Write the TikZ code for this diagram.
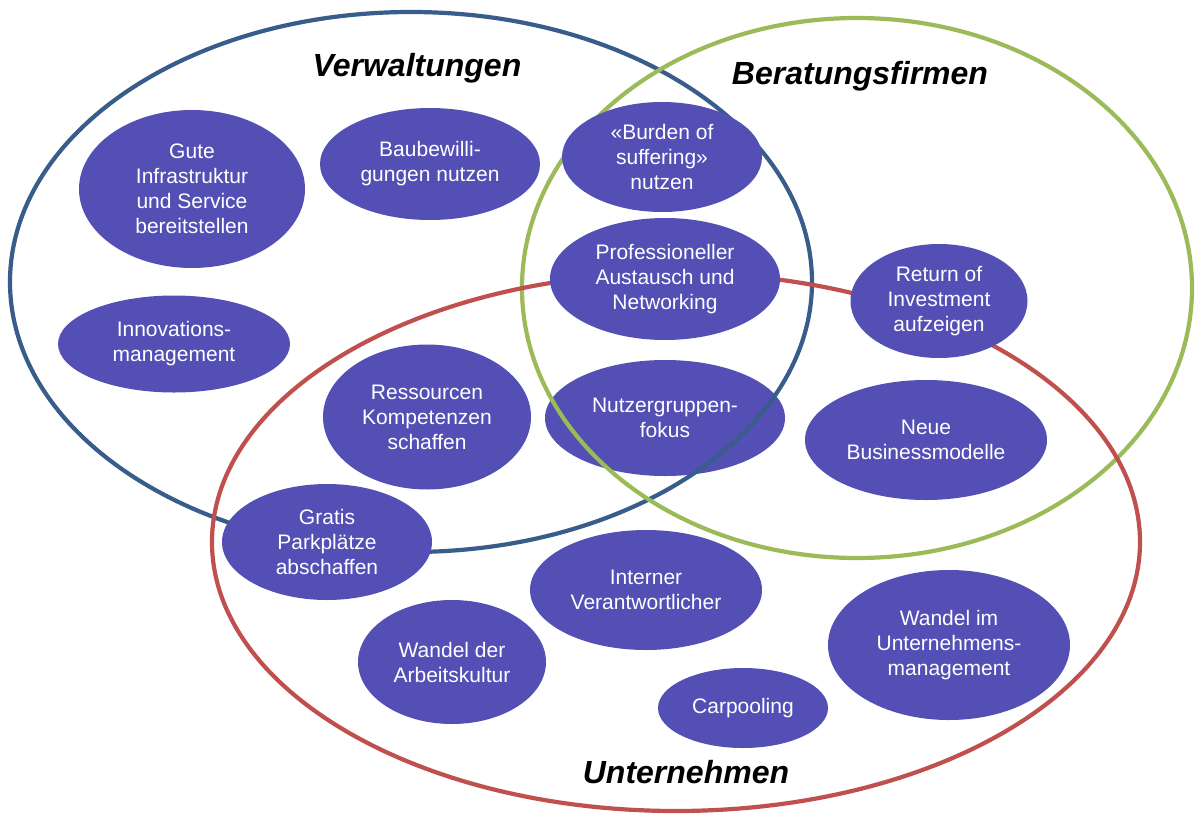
\documentclass[tikz,border=0pt]{standalone}
\usepackage{fontspec}
\setmainfont{Liberation Sans}
\usetikzlibrary{shapes.geometric}
\definecolor{vblue}{RGB}{56,93,138}
\definecolor{bgreen}{RGB}{155,187,89}
\definecolor{ured}{RGB}{192,80,77}
\definecolor{bubfill}{RGB}{83,79,181}
\tikzset{
  setring/.style={line width=4.2pt},
  bub/.style={ellipse, fill=bubfill, draw=none, inner sep=0pt, align=center,
    text=white, font=\fontsize{21}{25}\selectfont},
  settitle/.style={font=\fontsize{32}{38}\selectfont\bfseries\itshape, text=black}
}
\begin{document}
\begin{tikzpicture}[x=1pt,y=-1pt]
\useasboundingbox (0,0) rectangle (1195,817);
\fill[white] (0,0) rectangle (1195,817);
% bubble lying under the rings
\node[bub, minimum width=240pt, minimum height=116pt] (nutz) at (665,418) {Nutzergruppen-\\fokus};
% rings
\draw[setring, vblue] (411,282) ellipse [x radius=401pt, y radius=270pt];
\draw[setring, bgreen] (857,288) ellipse [x radius=335pt, y radius=270pt];
\draw[setring, ured] (676,542) ellipse [x radius=464pt, y radius=269pt];
% bubbles on top
\node[bub, minimum width=226pt, minimum height=158pt] (gute) at (192,189) {Gute\\Infrastruktur\\und Service\\bereitstellen};
\node[bub, minimum width=220pt, minimum height=112pt] (bau) at (430,164) {Baubewilli-\\gungen nutzen};
\node[bub, minimum width=200pt, minimum height=110pt] (burden) at (662,157) {«Burden of\\suffering»\\nutzen};
\node[bub, minimum width=230pt, minimum height=122pt] (prof) at (665,279) {Professioneller\\Austausch und\\Networking};
\node[bub, minimum width=177pt, minimum height=114pt] (roi) at (939,301) {Return of\\Investment\\aufzeigen};
\node[bub, minimum width=232pt, minimum height=97pt] (inno) at (174,344) {Innovations-\\management};
\node[bub, minimum width=208pt, minimum height=145pt] (ress) at (427,417) {Ressourcen\\Kompetenzen\\schaffen};
\node[bub, minimum width=242pt, minimum height=120pt] (neue) at (926,440) {Neue\\Businessmodelle};
\node[bub, minimum width=210pt, minimum height=116pt] (gratis) at (327,542) {Gratis\\Parkplätze\\abschaffen};
\node[bub, minimum width=232pt, minimum height=120pt] (intern) at (646,590) {Interner\\Verantwortlicher};
\node[bub, minimum width=188pt, minimum height=124pt] (wandela) at (452,662) {Wandel der\\Arbeitskultur};
\node[bub, minimum width=242pt, minimum height=150pt] (wandelu) at (949,645) {Wandel im\\Unternehmens-\\management};
\node[bub, minimum width=170pt, minimum height=80pt] (car) at (743,708) {Carpooling};
% titles
\node[settitle] (tverw) at (417,68) {Verwaltungen};
\node[settitle] (tber) at (860,76) {Beratungsfirmen};
\node[settitle] (tunt) at (686,772) {Unternehmen};
\end{tikzpicture}
\end{document}
